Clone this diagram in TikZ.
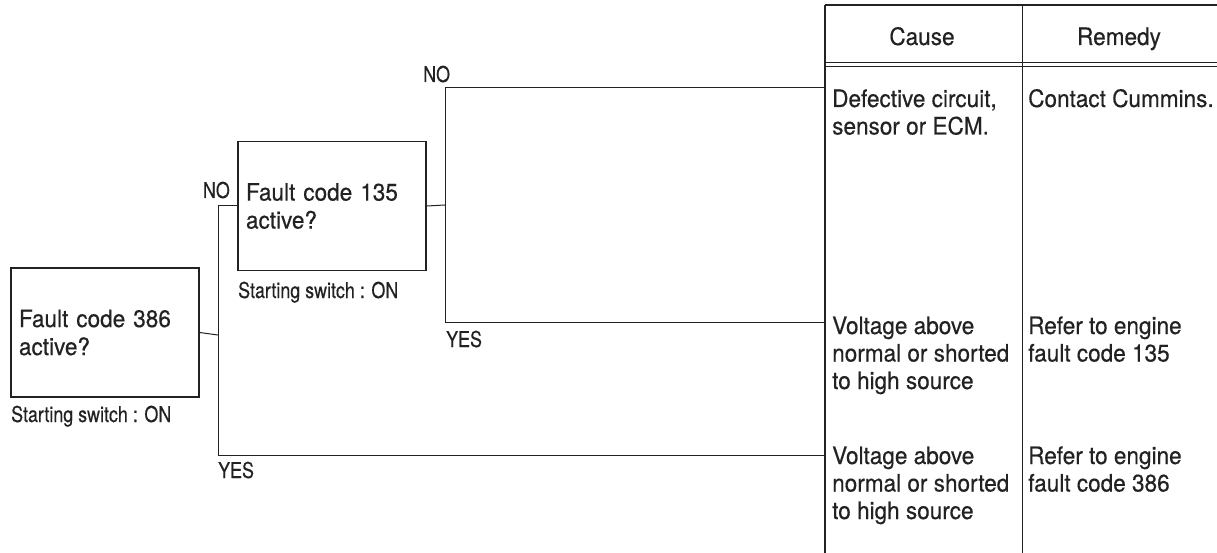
\documentclass[tikz,border=0pt]{standalone}
\usepackage{fontspec}
\setmainfont{TeX Gyre Heros}[FakeStretch=0.94,FakeBold=0.4]
\newfontfamily\lblfont{TeX Gyre Heros}[FakeStretch=0.82,FakeBold=0.4]
\definecolor{ink}{HTML}{222222}
\begin{document}
\begin{tikzpicture}[x=1pt,y=-1pt,
  ink line/.style={draw=ink, line width=1pt},
  qbox/.style={draw=ink, line width=1.4pt, minimum width=188pt, minimum height=129pt,
    inner xsep=8pt, inner ysep=0pt, text width=172pt, align=left,
    font={\fontsize{24}{28}\selectfont}, text=ink},
  celltext/.style={anchor=base west, inner sep=0pt, align=left,
    font={\fontsize{24}{27.5}\selectfont}, text=ink},
  headtext/.style={anchor=base, inner sep=0pt, font={\fontsize{24}{28}\selectfont}, text=ink},
  lbl/.style={inner sep=0pt, font={\lblfont\fontsize{21.8}{26}\selectfont}, text=ink}
]
\useasboundingbox (0,0) rectangle (1217,553);

% question boxes
\node[qbox] (q386) at (105,332.5) {Fault code 386\\active?};
\node[qbox] (q135) at (332,206) {Fault code 135\\active?};

% notes under boxes
\node[lbl, anchor=base west] (s386) at (11,422) {Starting switch : ON};
\node[lbl, anchor=base west] (s135) at (238,298) {Starting switch : ON};

% table frame
\draw[draw=ink, line width=1.8pt] (825,5) -- (825,553);
\draw[draw=ink, line width=1.2pt] (825,5) -- (1217,5);
\draw[draw=ink, line width=0.8pt] (825,62) -- (1217,62);
\draw[draw=ink, line width=0.8pt] (825,66) -- (1217,66);
\draw[draw=ink, line width=1pt] (1022,5) -- (1022,553);

% header
\node[headtext] (hcause) at (922,45) {Cause};
\node[headtext] (hremedy) at (1119,45) {Remedy};

% cells (anchor = baseline of the last line)
\node[celltext] (c1) at (832,134.5) {Defective circuit,\\sensor or ECM.};
\node[celltext] (m1) at (1028,107) {Contact Cummins.};
\node[celltext] (c2) at (832,389) {Voltage above\\normal or shorted\\to high source};
\node[celltext] (m2) at (1028,361.5) {Refer to engine\\fault code 135};
\node[celltext] (c3) at (832,519) {Voltage above\\normal or shorted\\to high source};
\node[celltext] (m3) at (1028,491.5) {Refer to engine\\fault code 386};

% connector points on table border
\coordinate (r1) at (825,88);
\coordinate (r2) at (825,322);
\coordinate (r3) at (825,455);
\coordinate (j1) at (218,335);
\coordinate (y2) at (218,455);
\coordinate (j2) at (445,205);
\coordinate (y1) at (445,322);

% connectors
\draw[ink line] (q386.east) -- (j1);
\draw[ink line] (q135.west) -| (y2) -- (r3);
\draw[ink line] (q135.east) -- (j2);
\draw[ink line] (r1) -| (y1) -- (r2);

% labels
\node[lbl, anchor=base west] (no1) at (423,82) {NO};
\node[lbl, anchor=base east] (no2) at (230,198) {NO};
\node[lbl, anchor=base west] (yes1) at (446,347) {YES};
\node[lbl, anchor=base west] (yes2) at (218,478) {YES};
\end{tikzpicture}
\end{document}
